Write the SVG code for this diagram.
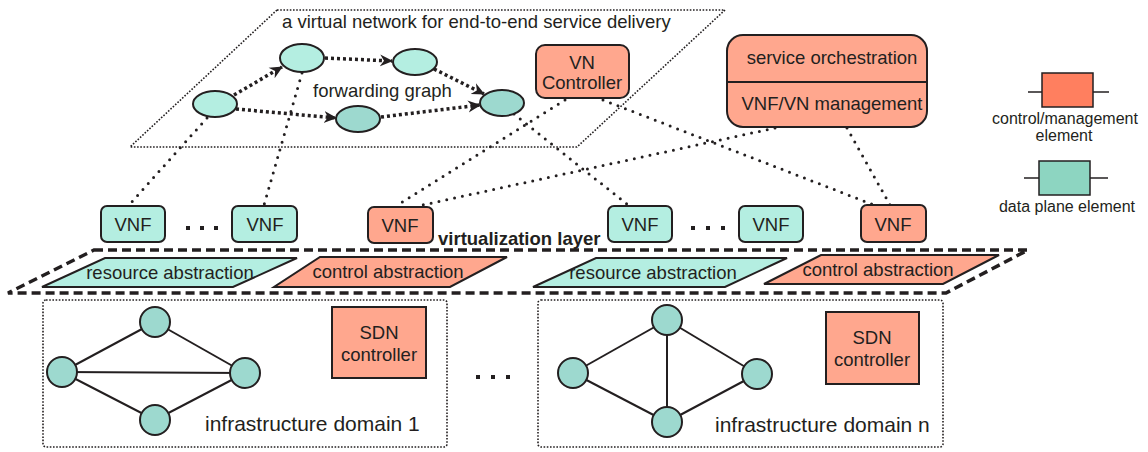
<svg xmlns="http://www.w3.org/2000/svg" width="1148" height="452" viewBox="0 0 1148 452">
<style>
text{font-family:"Liberation Sans",Arial,sans-serif;fill:#231f20;font-size:18.5px}
.c{text-anchor:middle}
.st{stroke:#231f20;stroke-width:2}
.teal{fill:#b4eee1}
.mteal{fill:#9dd9cf}
.sal{fill:#ffa78e}
.fg{fill:none;stroke:#231f20;stroke-width:3.5;stroke-dasharray:3 3}
.dot{fill:none;stroke:#231f20;stroke-width:3;stroke-linecap:round;stroke-dasharray:0 8}
.fine{fill:none;stroke:#231f20;stroke-width:1.6;stroke-dasharray:1.6 1.6}
.dash{fill:none;stroke:#231f20;stroke-width:3.5;stroke-dasharray:9 5}
.ln{stroke:#231f20;stroke-width:2}
.sq{fill:#231f20}
</style>
<defs>
<marker id="ah" markerUnits="userSpaceOnUse" markerWidth="14" markerHeight="14" refX="12" refY="7" orient="auto">
<path d="M0,1 L13,7 L0,13 L4,7 z" fill="#231f20"/>
</marker>
</defs>

<!-- virtual network plane -->
<g id="virtual-network">
<polygon class="fine" points="277,10 725,10 577,147 130,147"/>
<text x="282" y="28">a virtual network for end-to-end service delivery</text>
<text x="313" y="97">forwarding graph</text>
</g>

<g id="connectors">
<!-- forwarding graph arrows -->
<line class="fg" x1="234" y1="95" x2="282" y2="67" marker-end="url(#ah)"/>
<line class="fg" x1="325" y1="58" x2="392" y2="61" marker-end="url(#ah)"/>
<line class="fg" x1="434" y1="69" x2="484" y2="94" marker-end="url(#ah)"/>
<line class="fg" x1="236" y1="109" x2="336" y2="118" marker-end="url(#ah)"/>
<line class="fg" x1="381" y1="117" x2="480" y2="105" marker-end="url(#ah)"/>
<!-- mapping dotted lines -->
<line class="dot" x1="207" y1="118" x2="129" y2="205"/>
<line class="dot" x1="302" y1="73" x2="264" y2="205"/>
<line class="dot" x1="565" y1="100" x2="396" y2="206"/>
<line class="dot" x1="775" y1="128" x2="418" y2="206"/>
<line class="dot" x1="514" y1="114" x2="628" y2="205"/>
<line class="dot" x1="603" y1="100" x2="874" y2="205"/>
<line class="dot" x1="847" y1="128" x2="890" y2="205"/>
<!-- infrastructure links -->
<line class="ln" x1="62" y1="372" x2="155" y2="322"/>
<line class="ln" x1="155" y1="322" x2="245" y2="373"/>
<line class="ln" x1="62" y1="372" x2="245" y2="373"/>
<line class="ln" x1="62" y1="372" x2="155" y2="420"/>
<line class="ln" x1="155" y1="420" x2="245" y2="373"/>
<line class="ln" x1="573" y1="373" x2="667" y2="320"/>
<line class="ln" x1="667" y1="320" x2="757" y2="374"/>
<line class="ln" x1="667" y1="320" x2="667" y2="422"/>
<line class="ln" x1="573" y1="373" x2="667" y2="422"/>
<line class="ln" x1="667" y1="422" x2="757" y2="374"/>
</g>

<!-- forwarding graph nodes -->
<g id="fg-node-1"><ellipse class="st teal" cx="215" cy="104" rx="22" ry="13"/></g>
<g id="fg-node-2"><ellipse class="st teal" cx="302" cy="58" rx="22" ry="14"/></g>
<g id="fg-node-3"><ellipse class="st teal" cx="415" cy="62" rx="22" ry="13"/></g>
<g id="fg-node-4"><ellipse class="st mteal" cx="502" cy="103" rx="22" ry="13"/></g>
<g id="fg-node-5"><ellipse class="st mteal" cx="358" cy="119" rx="22" ry="13"/></g>

<g id="vn-controller">
<rect class="st sal" x="536" y="45" width="93" height="53" rx="9"/>
<text class="c" x="582" y="69">VN</text>
<text class="c" x="582" y="89">Controller</text>
</g>

<g id="service-orchestration">
<rect class="st sal" x="727" y="35" width="200" height="92" rx="16"/>
<line class="ln" x1="727" y1="82" x2="927" y2="82"/>
<text class="c" x="832" y="64">service orchestration</text>
<text class="c" x="832" y="110">VNF/VN management</text>
</g>

<!-- legend -->
<g id="legend-control">
<line x1="1028" y1="92" x2="1109" y2="92" stroke="#231f20" stroke-width="1.5"/>
<rect x="1042" y="73" width="51" height="34" fill="#ff7f5f" stroke="#231f20" stroke-width="1.5"/>
<text class="c" x="1065" y="124" style="font-size:16px">control/management</text>
<text class="c" x="1064" y="141" style="font-size:16px">element</text>
</g>
<g id="legend-data">
<line x1="1024" y1="178" x2="1108" y2="178" stroke="#231f20" stroke-width="1.5"/>
<rect x="1039" y="161" width="51" height="34" fill="#8dd5c1" stroke="#231f20" stroke-width="1.5"/>
<text class="c" x="1067" y="212" style="font-size:16px">data plane element</text>
</g>

<!-- VNFs -->
<g id="vnf-1"><rect class="st teal" x="101" y="206" width="64" height="36" rx="6"/><text class="c" x="133" y="231">VNF</text></g>
<g id="vnf-dots-1"><rect class="sq" x="186" y="226" width="4" height="4"/><rect class="sq" x="200" y="226" width="4" height="4"/><rect class="sq" x="214" y="226" width="4" height="4"/></g>
<g id="vnf-2"><rect class="st teal" x="232" y="206" width="65" height="36" rx="6"/><text class="c" x="265" y="231">VNF</text></g>
<g id="vnf-3"><rect class="st sal" x="368" y="207" width="65" height="36" rx="6"/><text class="c" x="400" y="232">VNF</text></g>
<g id="vnf-4"><rect class="st teal" x="608" y="206" width="64" height="36" rx="6"/><text class="c" x="640" y="231">VNF</text></g>
<g id="vnf-dots-2"><rect class="sq" x="691" y="226" width="4" height="4"/><rect class="sq" x="706" y="226" width="4" height="4"/><rect class="sq" x="721" y="226" width="4" height="4"/></g>
<g id="vnf-5"><rect class="st teal" x="739" y="206" width="64" height="36" rx="6"/><text class="c" x="771" y="231">VNF</text></g>
<g id="vnf-6"><rect class="st sal" x="861" y="205" width="65" height="37" rx="6"/><text class="c" x="893" y="231">VNF</text></g>

<!-- virtualization layer -->
<g id="virtualization-layer">
<polygon class="dash" points="94,250 1028,250 946,293 8,293"/>
<text x="438" y="245" style="font-weight:bold">virtualization layer</text>
</g>
<g id="resource-abstraction-1">
<polygon class="st teal" points="105,258 297,258 233,287 42,287"/>
<text class="c" x="170" y="279">resource abstraction</text>
</g>
<g id="control-abstraction-1">
<polygon class="st sal" points="320,257 507,257 450,287 274,287"/>
<text class="c" x="388" y="278">control abstraction</text>
</g>
<g id="resource-abstraction-2">
<polygon class="st teal" points="596,258 787,258 725,287 533,287"/>
<text class="c" x="653" y="279">resource abstraction</text>
</g>
<g id="control-abstraction-2">
<polygon class="st sal" points="821,255 999,255 943,284 764,284"/>
<text class="c" x="878" y="276">control abstraction</text>
</g>

<!-- infrastructure domains -->
<g id="domain-1">
<rect class="fine" x="43" y="300" width="404" height="147" rx="3"/>
<circle class="st mteal" cx="155" cy="322" r="15"/>
<circle class="st mteal" cx="62" cy="372" r="15"/>
<circle class="st mteal" cx="245" cy="373" r="15"/>
<circle class="st mteal" cx="155" cy="420" r="15"/>
<text x="205" y="431" style="font-size:21px">infrastructure domain 1</text>
</g>
<g id="sdn-controller-1">
<rect class="st sal" x="332" y="307" width="94" height="71"/>
<text class="c" x="379" y="339">SDN</text>
<text class="c" x="379" y="361">controller</text>
</g>
<g id="domain-dots"><rect class="sq" x="476" y="375" width="4" height="4"/><rect class="sq" x="491" y="375" width="4" height="4"/><rect class="sq" x="506" y="375" width="4" height="4"/></g>
<g id="domain-n">
<rect class="fine" x="538" y="300" width="405" height="147" rx="3"/>
<circle class="st mteal" cx="667" cy="320" r="15"/>
<circle class="st mteal" cx="573" cy="373" r="15"/>
<circle class="st mteal" cx="757" cy="374" r="15"/>
<circle class="st mteal" cx="667" cy="422" r="15"/>
<text x="715" y="432" style="font-size:21px">infrastructure domain n</text>
</g>
<g id="sdn-controller-n">
<rect class="st sal" x="826" y="312" width="93" height="72"/>
<text class="c" x="872" y="344">SDN</text>
<text class="c" x="872" y="366">controller</text>
</g>
</svg>
